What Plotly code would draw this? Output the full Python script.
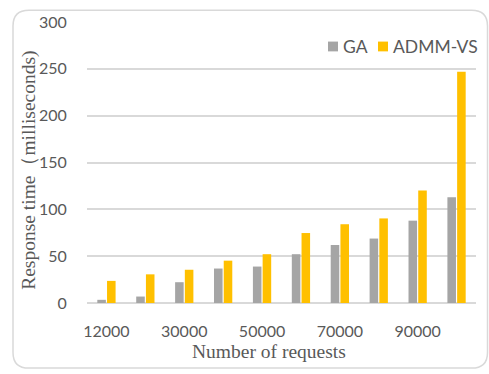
import plotly.graph_objects as go

# Number of requests per test case (category labels)
categories = ["12000", "20000", "30000", "40000", "50000",
              "60000", "70000", "80000", "90000", "100000"]
shown_ticks = ["12000", "30000", "50000", "70000", "90000"]

# Response time in milliseconds
series_names = ["GA", "ADMM-VS"]
series_colors = ["#A5A5A5", "#FFC000"]
ga_ms = [3.4, 6.9, 22.2, 36.8, 38.9, 52.1, 61.9, 68.8, 87.9, 113]
admm_vs_ms = [23.6, 30.6, 35.5, 45.2, 52.1, 74.7, 84.1, 90.3, 120, 247]

W, H = 489, 374
ML, MR, MT, MB = 87, 13, 16, 71

fig = go.Figure()
for name, color, vals in zip(series_names, series_colors, [ga_ms, admm_vs_ms]):
    fig.add_trace(go.Bar(name=name, x=categories, y=vals, showlegend=False,
                         marker=dict(color=color, line=dict(width=0))))

tick_font = dict(family="Lato", size=16, color="#595959")
title_font = dict(family="Liberation Serif", size=19.5, color="#595959")

fig.update_layout(
    width=W, height=H,
    margin=dict(l=ML, r=MR, t=MT, b=MB),
    paper_bgcolor="white", plot_bgcolor="white",
    barmode="group", bargap=0.5, bargroupgap=0.12,
    xaxis=dict(type="category", tickmode="array", tickvals=shown_ticks,
               ticktext=shown_ticks, tickfont=tick_font, showgrid=False,
               showline=False, zeroline=False,
               ticks="outside", ticklen=14, tickcolor="rgba(0,0,0,0)"),
    yaxis=dict(range=[0, 300], dtick=50, tickfont=tick_font,
               showgrid=True, gridcolor="#D9D9D9", gridwidth=1.5,
               zeroline=True, zerolinecolor="#D9D9D9", zerolinewidth=1.5,
               showline=False,
               ticks="outside", ticklen=16, tickcolor="rgba(0,0,0,0)"),
)

pw, ph = W - ML - MR, H - MT - MB
def px_x(v):
    return (v - ML) / pw

def px_y(v):
    return 1 - (v - MT) / ph

# Axis titles
fig.add_annotation(text="Number of requests", xref="paper", yref="paper",
                   x=px_x(269), y=px_y(353), showarrow=False,
                   xanchor="center", yanchor="middle", font=title_font)
fig.add_annotation(text="Response time（milliseconds)", xref="paper", yref="paper",
                   x=px_x(29), y=px_y(168), showarrow=False, textangle=-90,
                   xanchor="center", yanchor="middle", font=title_font)

# Legend: colour swatch followed by its label
legend_font = dict(family="Lato", size=17.5, color="#595959")
legend_y = 41
for name, color, sx in zip(series_names, series_colors, [328, 378]):
    fig.add_shape(type="rect", xref="paper", yref="paper",
                  x0=px_x(sx), x1=px_x(sx + 10),
                  y0=px_y(legend_y + 5), y1=px_y(legend_y - 5),
                  fillcolor=color, line=dict(width=0))
    fig.add_annotation(text=name, xref="paper", yref="paper",
                       x=px_x(sx + 13), y=px_y(legend_y), showarrow=False,
                       xanchor="left", yanchor="middle", font=legend_font)

# Rounded chart border
x0, x1, y0, y1, r = 13, 487.5, 4, 369.5, 16
path = (f"M {px_x(x0 + r)} {px_y(y0)} L {px_x(x1 - r)} {px_y(y0)} "
        f"Q {px_x(x1)} {px_y(y0)} {px_x(x1)} {px_y(y0 + r)} "
        f"L {px_x(x1)} {px_y(y1 - r)} "
        f"Q {px_x(x1)} {px_y(y1)} {px_x(x1 - r)} {px_y(y1)} "
        f"L {px_x(x0 + r)} {px_y(y1)} "
        f"Q {px_x(x0)} {px_y(y1)} {px_x(x0)} {px_y(y1 - r)} "
        f"L {px_x(x0)} {px_y(y0 + r)} "
        f"Q {px_x(x0)} {px_y(y0)} {px_x(x0 + r)} {px_y(y0)} Z")
fig.add_shape(type="path", path=path, xref="paper", yref="paper",
              line=dict(color="#D9D9D9", width=1.5), layer="below")

fig.write_html("out.html")
